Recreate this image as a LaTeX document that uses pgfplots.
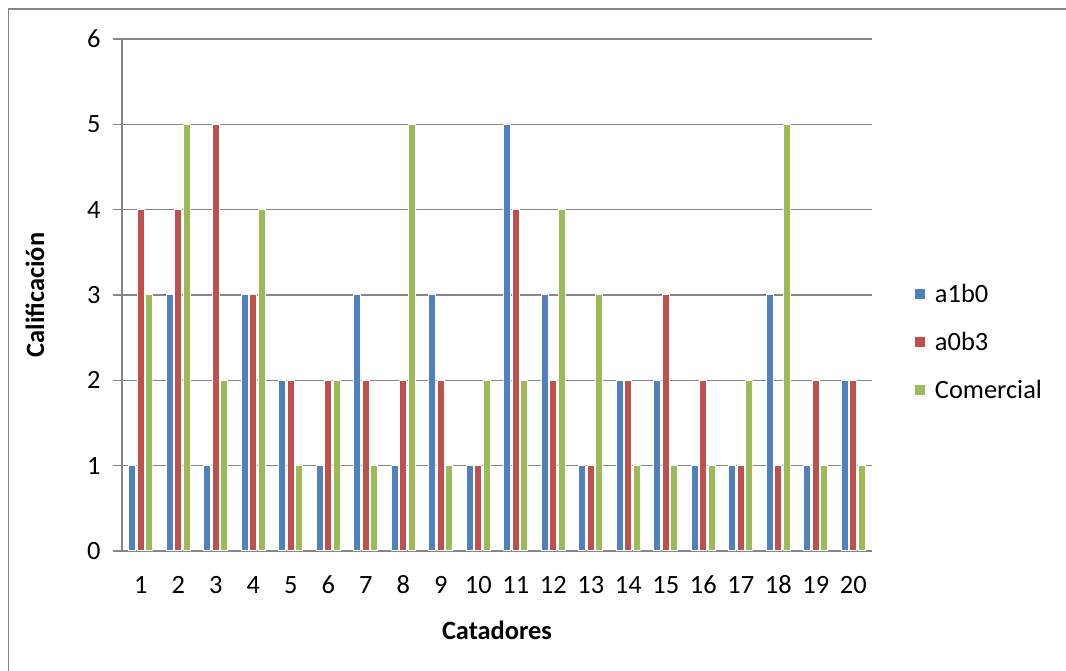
\documentclass[border=0pt]{standalone}
\usepackage{pgfplots}
\pgfplotsset{compat=1.18}
\usepackage{fontspec}
\setmainfont{Carlito}
\definecolor{serA}{HTML}{4F81BD}
\definecolor{serB}{HTML}{C0504D}
\definecolor{serC}{HTML}{9BBB59}
\definecolor{axisgray}{HTML}{868686}
\newcommand{\lblfont}{\fontsize{26.5}{32}\selectfont}
\begin{document}
\begin{tikzpicture}[x=1bp,y=1bp]
\useasboundingbox (0,0) rectangle (1066,671);
\draw[axisgray, line width=1.5bp] (8.5,0) -- (8.5,662) -- (1066,662);
\begin{axis}[
  at={(122bp,120bp)}, anchor=south west,
  scale only axis, width=750bp, height=512bp,
  xmin=0.5, xmax=20.5, ymin=0, ymax=6,
  ybar, bar width=7bp, ybar=1.5bp,
  xtick={1,...,20}, ytick={0,...,6},
  axis x line*=bottom, axis y line*=left,
  axis line style={axisgray, line width=1.3bp},
  ymajorgrids, major grid style={axisgray, line width=1.3bp},
  tick align=outside,
  ytick style={axisgray, line width=1.3bp},
  major tick length=9bp,
  xtick style={draw=none},
  ticklabel style={font=\lblfont},
  /pgf/number format/assume math mode=true,
  yticklabel style={xshift=-9bp},
  xticklabel style={yshift=-24bp, text height=0.65em, text depth=0.2em},
  xlabel={\textbf{Catadores}}, ylabel={\textbf{Calificación}},
  every axis x label/.style={at={(rel axis cs:0.5,-0.154)}, anchor=center, font=\lblfont},
  every axis y label/.style={at={(rel axis cs:-0.116,0.5)}, anchor=center, rotate=90, font=\lblfont},
  legend style={at={(rel axis cs:1.057,0.408)}, anchor=west, draw=none, fill=none,
    font=\lblfont, inner sep=0pt, row sep=28bp, column sep=10bp,
    nodes={inner sep=0pt, anchor=west}},
  legend cell align=left,
  legend image code/.code={\path[#1,draw=none] (0bp,-5bp) rectangle (10bp,5bp);},
  every axis plot/.append style={draw=white, line width=1bp},
]
\addplot[fill=serA] coordinates {
 (1,1) (2,3) (3,1) (4,3) (5,2) (6,1) (7,3) (8,1) (9,3) (10,1)
 (11,5) (12,3) (13,1) (14,2) (15,2) (16,1) (17,1) (18,3) (19,1) (20,2)};
\addplot[fill=serB] coordinates {
 (1,4) (2,4) (3,5) (4,3) (5,2) (6,2) (7,2) (8,2) (9,2) (10,1)
 (11,4) (12,2) (13,1) (14,2) (15,3) (16,2) (17,1) (18,1) (19,2) (20,2)};
\addplot[fill=serC] coordinates {
 (1,3) (2,5) (3,2) (4,4) (5,1) (6,2) (7,1) (8,5) (9,1) (10,2)
 (11,2) (12,4) (13,3) (14,1) (15,1) (16,1) (17,2) (18,5) (19,1) (20,1)};
\legend{a1b0,a0b3,Comercial}
\end{axis}
\end{tikzpicture}
\end{document}
